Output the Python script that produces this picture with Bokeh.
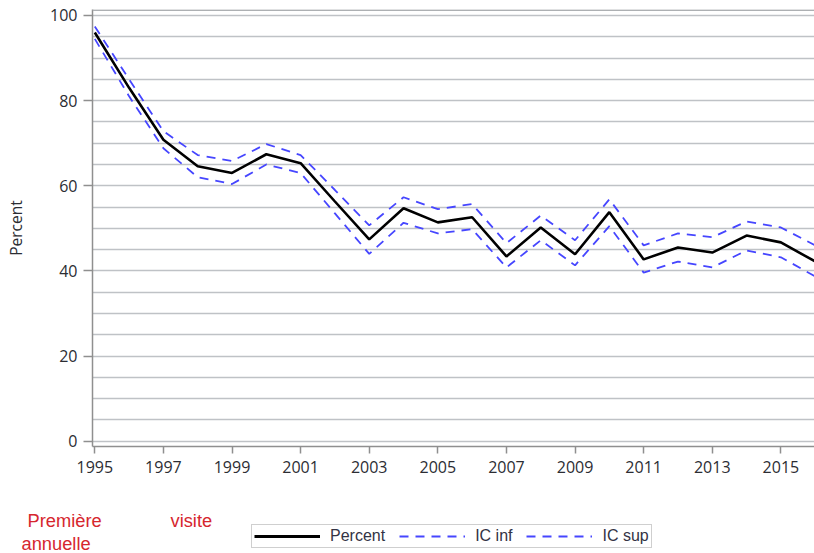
from bokeh.plotting import figure
from bokeh.layouts import column
from bokeh.models import (Range1d, FixedTicker, SingleIntervalTicker, Span, Label,
                          Legend, LegendItem, ColumnDataSource)
from bokeh.embed import file_html
from bokeh.resources import INLINE

# ---- data ----
years = list(range(1995, 2017))
percent = [96.0, 83.0, 70.8, 64.6, 63.0, 67.4, 65.3, 56.3, 47.4, 54.7, 51.4, 52.6,
           43.4, 50.2, 43.9, 53.8, 42.7, 45.5, 44.3, 48.3, 46.7, 42.2]
ic_inf = [94.5, 81.0, 68.8, 62.0, 60.4, 65.0, 63.0, 53.5, 44.0, 51.3, 48.8, 49.8,
          40.8, 47.2, 41.3, 50.5, 39.6, 42.2, 40.8, 44.8, 43.2, 38.7]
ic_sup = [97.4, 85.0, 72.8, 67.2, 65.8, 69.8, 67.2, 59.0, 50.7, 57.3, 54.5, 55.7,
          46.5, 53.0, 47.2, 56.8, 46.0, 48.8, 47.9, 51.6, 50.2, 46.0]
x_ticks = list(range(1995, 2016, 2))
y_ticks = [0, 20, 40, 60, 80, 100]
series_names = ["Percent", "IC inf", "IC sup"]
y_title = "Percent"
note_texts = ["Première", "visite", "annuelle"]

W = 814
H_TOP, H_BOT = 486, 67

p1 = figure(width=W, height=H_TOP, output_backend="svg", toolbar_location=None,
            x_range=Range1d(1994.933, 2015.98), y_range=Range1d(-1.25, 101.4),
            min_border_left=92, min_border_right=0, min_border_top=9,
            min_border_bottom=40)
p1.outline_line_color = None

src = ColumnDataSource(dict(x=years, pct=percent, lo=ic_inf, hi=ic_sup))

# grid
p1.xgrid.visible = False
p1.ygrid.ticker = SingleIntervalTicker(interval=5)
p1.ygrid.grid_line_color = "#bfc2c6"
p1.ygrid.grid_line_width = 1.6
p1.add_layout(Span(location=101.25, dimension="width", line_color="#adb0b3",
                   line_width=1.6))

# axes
for ax in (p1.xaxis[0], p1.yaxis[0]):
    ax.axis_line_color = "#8f8f8f"
    ax.axis_line_width = 1.5
    ax.major_tick_line_color = "#8f8f8f"
    ax.major_tick_line_width = 1.5
    ax.major_tick_in = 0
    ax.minor_tick_line_color = None
    ax.major_label_text_font = "Open Sans"
    ax.major_label_text_font_size = "16px"
    ax.major_label_text_color = "#2c2d33"

p1.xaxis.ticker = FixedTicker(ticks=x_ticks)
p1.xaxis.major_tick_out = 7
p1.xaxis.major_label_standoff = 7
p1.yaxis.ticker = FixedTicker(ticks=y_ticks)
p1.yaxis.major_tick_out = 9
p1.yaxis.major_label_standoff = 6
p1.yaxis.axis_label = y_title
p1.yaxis.axis_label_text_font = "Open Sans"
p1.yaxis.axis_label_text_font_size = "15.5px"
p1.yaxis.axis_label_text_font_style = "normal"
p1.yaxis.axis_label_text_color = "#2c2d33"
p1.yaxis.axis_label_standoff = 20

# lines
blue = "#4646ff"
dash = "9 7"
p1.line("x", "lo", source=src, line_color=blue, line_width=1.8, line_dash=dash)
p1.line("x", "hi", source=src, line_color=blue, line_width=1.8, line_dash=dash)
p1.line("x", "pct", source=src, line_color="black", line_width=2.6)

# ---- bottom strip: notes and legend ----
p2 = figure(width=W, height=H_BOT, output_backend="svg", toolbar_location=None,
            x_range=Range1d(0, 1), y_range=Range1d(0, 1),
            min_border=0, min_border_left=0, min_border_right=0,
            min_border_top=0, min_border_bottom=0)
try:
    p2.frame_align = False
except Exception:
    pass
p2.axis.visible = False
p2.grid.visible = False
p2.outline_line_color = None

# legend proxies: same series, lying outside this strip's (0..1) ranges
g_pct = p2.line("x", "pct", source=src, line_color="black", line_width=3.2)
g_lo = p2.line("x", "lo", source=src, line_color=blue, line_width=1.8, line_dash=dash)
g_hi = p2.line("x", "hi", source=src, line_color=blue, line_width=1.8, line_dash=dash)

legend = Legend(items=[LegendItem(label=series_names[0], renderers=[g_pct]),
                       LegendItem(label=series_names[1], renderers=[g_lo]),
                       LegendItem(label=series_names[2], renderers=[g_hi])],
                orientation="horizontal", location=(251, 5),
                label_text_font="Liberation Sans", label_text_font_size="16px",
                label_text_color="#333344", label_standoff=10, label_height=14,
                glyph_width=66, glyph_height=14, spacing=14, padding=2, margin=0,
                border_line_color="#a0a0a0", border_line_width=1.2,
                background_fill_color="white", background_fill_alpha=1.0)
p2.add_layout(legend, "center")

red = "#d6262e"
note_pos = [(27, 33), (170, 33), (21, 10)]
for txt, (lx, ly) in zip(note_texts, note_pos):
    p2.add_layout(Label(x=lx, y=ly, x_units="screen", y_units="screen", text=txt,
                        text_font="Liberation Sans", text_font_size="18.3px",
                        text_color=red, text_baseline="alphabetic"))

layout = column(p1, p2, spacing=0)
open("out.html", "w").write(file_html(layout, INLINE))
